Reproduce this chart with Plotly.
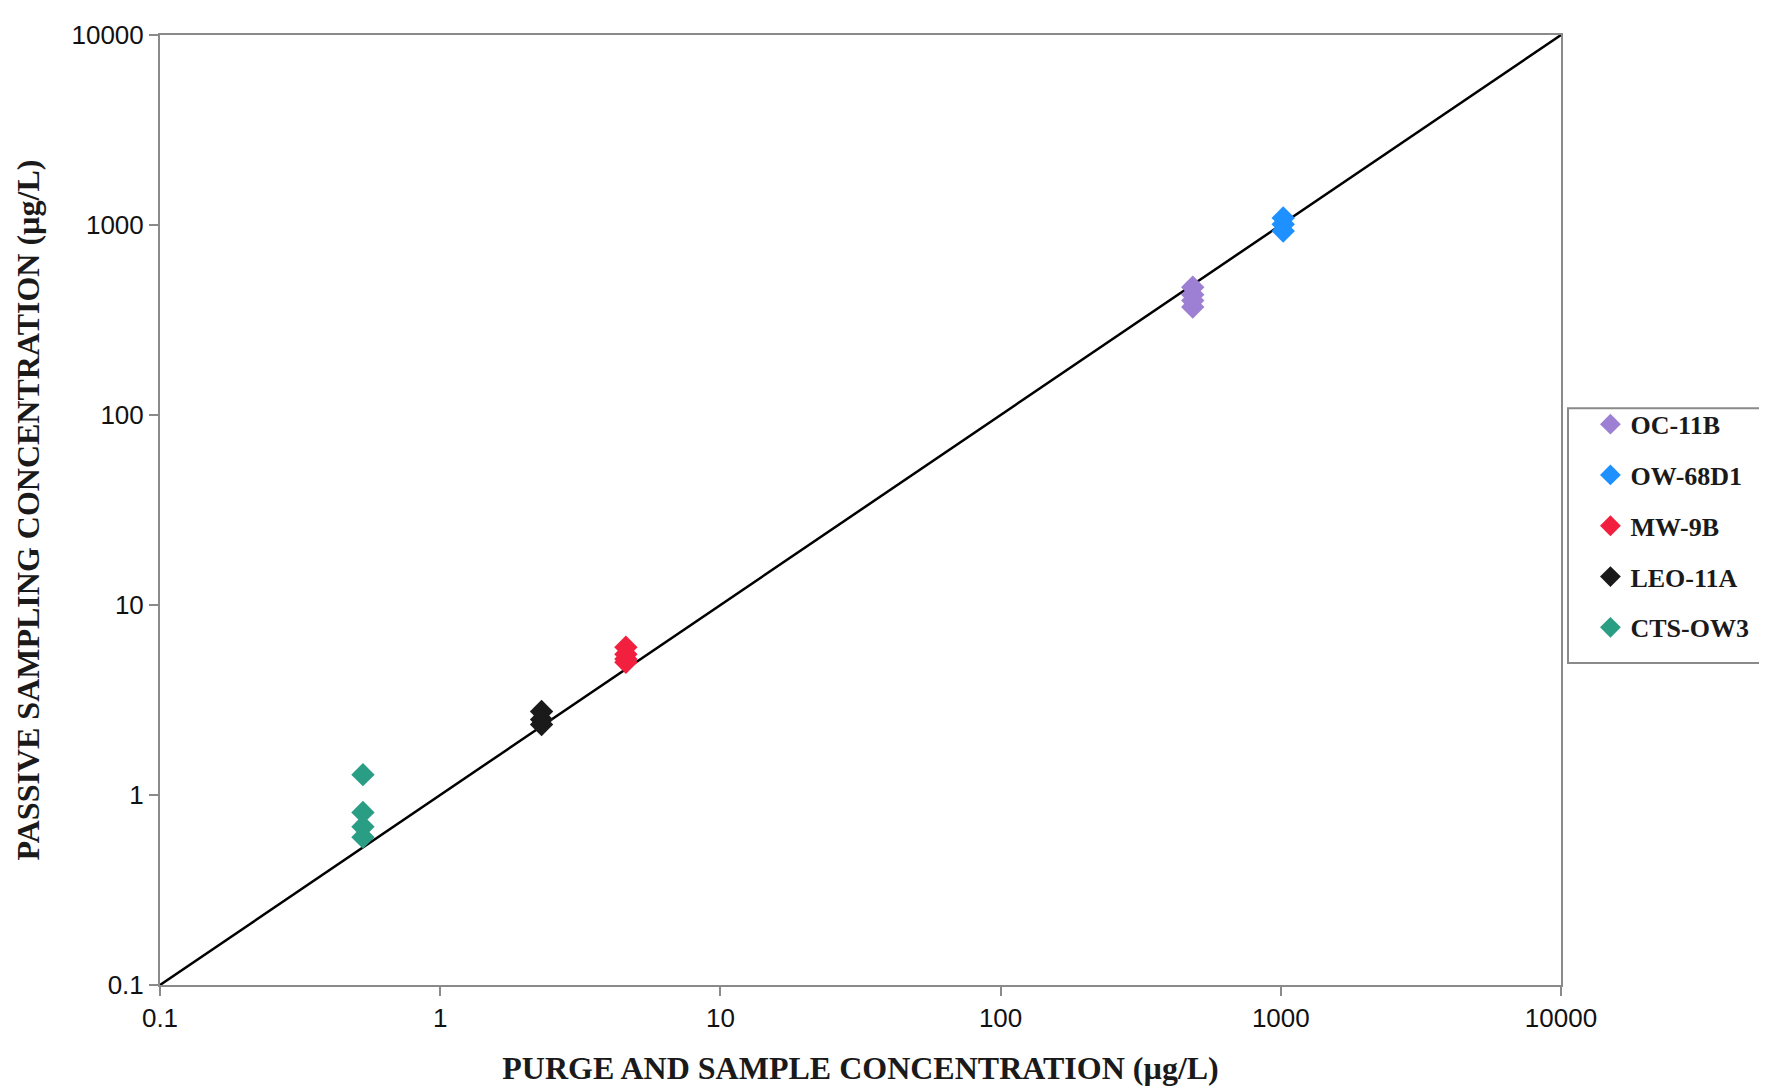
import plotly.graph_objects as go

series_names = ["OC-11B", "OW-68D1", "MW-9B", "LEO-11A", "CTS-OW3"]
series_colors = ["#9D80D3", "#1E90FF", "#F2203F", "#1A1A1A", "#2A9D85"]
purge_x = {
    "OC-11B": [485, 485, 485, 485],
    "OW-68D1": [1020, 1020, 1020],
    "MW-9B": [4.6, 4.6, 4.6, 4.6],
    "LEO-11A": [2.3, 2.3, 2.3],
    "CTS-OW3": [0.53, 0.53, 0.53, 0.53],
}
passive_y = {
    "OC-11B": [470, 430, 400, 370],
    "OW-68D1": [1090, 1010, 930],
    "MW-9B": [6.0, 5.5, 5.2, 5.0],
    "LEO-11A": [2.75, 2.5, 2.35],
    "CTS-OW3": [1.28, 0.81, 0.68, 0.60],
}
line_x = [0.1, 10000]
line_y = [0.1, 10000]
tick_vals = [0.1, 1, 10, 100, 1000, 10000]
tick_text = ["0.1", "1", "10", "100", "1000", "10000"]

fig = go.Figure()
fig.add_trace(go.Scatter(x=line_x, y=line_y, mode="lines",
                         line=dict(color="black", width=2.5),
                         showlegend=False, hoverinfo="skip"))
for name, color in zip(series_names, series_colors):
    fig.add_trace(go.Scatter(
        x=purge_x[name], y=passive_y[name], mode="markers", name="<b>" + name + "</b>",
        legendgroup=name,
        marker=dict(symbol="diamond", size=18, color=color, line=dict(width=0)),
    ))

axis_common = dict(
    type="log", showgrid=False, zeroline=False,
    showline=True, linecolor="#8a8a8a", linewidth=2, mirror=True,
    ticks="outside", ticklen=9, tickcolor="#8a8a8a", tickwidth=1.5,
    tickvals=tick_vals, ticktext=tick_text,
    tickfont=dict(family="Liberation Sans, Arial", size=26, color="#111111"),
)
title_font = dict(family="Liberation Serif, Times New Roman", size=32, color="#1a1a1a")
fig.update_xaxes(range=[-1, 4], title=dict(
    text="<b>PURGE AND SAMPLE CONCENTRATION (µg/L)</b>",
    font=title_font, standoff=24), **axis_common)
fig.update_yaxes(range=[-1, 4], title=dict(
    text="<b>PASSIVE SAMPLING CONCENTRATION (µg/L)</b>",
    font=title_font, standoff=22), **axis_common)

fig.add_shape(type="rect", xref="paper", yref="paper",
              x0=1.005, x1=1.3, y0=0.339, y1=0.607,
              line=dict(color="#8a8a8a", width=2), fillcolor="white", layer="below")

fig.update_layout(
    width=1767, height=1086,
    margin=dict(l=152, r=214, t=27, b=109, autoexpand=False),
    plot_bgcolor="white", paper_bgcolor="white",
    legend=dict(
        x=1.021, y=0.615, xanchor="left", yanchor="top",
        borderwidth=0,
        font=dict(family="Liberation Serif, Times New Roman", size=26, color="#1a1a1a"),
        tracegroupgap=14, itemwidth=30,
        bgcolor="rgba(0,0,0,0)",
    ),
)
fig.write_html("out.html")
